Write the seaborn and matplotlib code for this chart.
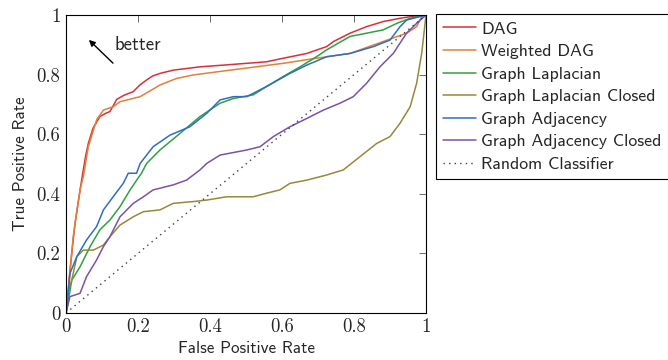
import matplotlib
matplotlib.use("Agg")
import matplotlib.pyplot as plt
import seaborn as sns
import pandas as pd

# ROC curves (FPR, TPR)
dag_fpr = [0, 0.005, 0.01, 0.016, 0.025, 0.03, 0.04, 0.048, 0.055, 0.062, 0.075, 0.094, 0.11, 0.122,
           0.141, 0.16, 0.187, 0.205, 0.224, 0.24, 0.261, 0.298, 0.372, 0.45, 0.557, 0.604, 0.669,
           0.724, 0.743, 0.789, 0.835, 0.881, 0.928, 0.96, 1.0]
dag_tpr = [0, 0.06, 0.13, 0.2, 0.3, 0.34, 0.42, 0.48, 0.53, 0.569, 0.62, 0.659, 0.67, 0.676,
           0.717, 0.73, 0.743, 0.765, 0.782, 0.795, 0.804, 0.815, 0.826, 0.833, 0.843, 0.855, 0.871,
           0.894, 0.911, 0.939, 0.961, 0.978, 0.989, 0.995, 1.0]

wdag_fpr = [0, 0.006, 0.012, 0.02, 0.03, 0.039, 0.048, 0.062, 0.085, 0.104, 0.131, 0.15, 0.206,
            0.261, 0.307, 0.354, 0.604, 0.696, 0.789, 0.881, 0.946, 0.974, 0.988, 1.0]
wdag_tpr = [0, 0.07, 0.15, 0.256, 0.34, 0.413, 0.457, 0.558, 0.648, 0.681, 0.692, 0.709, 0.726,
            0.765, 0.787, 0.799, 0.838, 0.855, 0.871, 0.911, 0.939, 0.961, 0.994, 1.0]

lap_fpr = [0, 0.002, 0.016, 0.039, 0.067, 0.094, 0.122, 0.15, 0.178, 0.21, 0.224, 0.261, 0.317,
           0.372, 0.428, 0.465, 0.52, 0.557, 0.604, 0.65, 0.696, 0.724, 0.789, 0.835, 0.881,
           0.919, 0.956, 1.0]
lap_tpr = [0, 0.01, 0.11, 0.155, 0.223, 0.279, 0.312, 0.357, 0.413, 0.47, 0.502, 0.547, 0.603,
           0.659, 0.704, 0.72, 0.732, 0.76, 0.794, 0.826, 0.86, 0.883, 0.928, 0.939, 0.95,
           0.972, 0.989, 1.0]

lapc_fpr = [0, 0.002, 0.016, 0.030, 0.048, 0.076, 0.104, 0.122, 0.15, 0.187, 0.215, 0.261, 0.298,
            0.354, 0.391, 0.446, 0.52, 0.557, 0.594, 0.622, 0.669, 0.724, 0.77, 0.817, 0.863,
            0.9, 0.928, 0.956, 0.974, 0.988, 1.0]
lapc_tpr = [0.05, 0.055, 0.11, 0.189, 0.211, 0.211, 0.228, 0.256, 0.295, 0.323, 0.34, 0.346, 0.368,
            0.374, 0.379, 0.39, 0.39, 0.402, 0.413, 0.435, 0.446, 0.463, 0.48, 0.525, 0.569,
            0.592, 0.637, 0.692, 0.771, 0.871, 1.0]

adj_fpr = [0, 0.002, 0.011, 0.030, 0.057, 0.085, 0.104, 0.131, 0.159, 0.173, 0.196, 0.206, 0.242,
           0.289, 0.344, 0.391, 0.428, 0.465, 0.502, 0.557, 0.622, 0.669, 0.724, 0.789, 0.854,
           0.9, 0.928, 0.946, 1.0]
adj_tpr = [0, 0.01, 0.133, 0.189, 0.245, 0.29, 0.346, 0.39, 0.435, 0.469, 0.469, 0.502, 0.558,
           0.597, 0.625, 0.67, 0.715, 0.726, 0.726, 0.76, 0.804, 0.832, 0.86, 0.871, 0.894,
           0.916, 0.961, 0.983, 1.0]

adjc_fpr = [0, 0.002, 0.011, 0.039, 0.057, 0.085, 0.104, 0.122, 0.15, 0.187, 0.215, 0.242, 0.298,
            0.335, 0.372, 0.391, 0.428, 0.502, 0.539, 0.576, 0.622, 0.669, 0.715, 0.761, 0.798,
            0.835, 0.872, 0.909, 0.946, 0.974, 1.0]
adjc_tpr = [0, 0.01, 0.055, 0.066, 0.122, 0.178, 0.223, 0.256, 0.323, 0.368, 0.39, 0.413, 0.43,
            0.446, 0.48, 0.502, 0.53, 0.547, 0.558, 0.592, 0.625, 0.653, 0.681, 0.704, 0.726,
            0.771, 0.826, 0.871, 0.939, 0.972, 1.0]

rand_fpr = [0, 1]
rand_tpr = [0, 1]

names = ["DAG", "Weighted DAG", "Graph Laplacian", "Graph Laplacian Closed",
         "Graph Adjacency", "Graph Adjacency Closed"]
colors = ["#d9303a", "#e0803a", "#30a040", "#958a3a", "#2f6ec0", "#7a52a8"]
curves = [(dag_fpr, dag_tpr), (wdag_fpr, wdag_tpr), (lap_fpr, lap_tpr),
          (lapc_fpr, lapc_tpr), (adj_fpr, adj_tpr), (adjc_fpr, adjc_tpr)]

ticks = [0, 0.2, 0.4, 0.6, 0.8, 1]
tick_labels = ["0", "0.2", "0.4", "0.6", "0.8", "1"]

frames = []
for n, (fx, ty) in zip(names, curves):
    frames.append(pd.DataFrame({"fpr": fx, "tpr": ty, "model": n}))
df = pd.concat(frames, ignore_index=True)

sns.set_style("white")
plt.rcParams["axes.formatter.use_mathtext"] = True
sans = ["cmss10", "DejaVu Sans"]
serif = ["cmr10", "DejaVu Serif"]

fig = plt.figure(figsize=(6.68, 3.6), dpi=100)
ax = fig.add_axes([66 / 668, 47 / 360, 360 / 668, 298 / 360])

sns.lineplot(data=df, x="fpr", y="tpr", hue="model", hue_order=names,
             palette=colors, sort=False, estimator=None, linewidth=1.1, ax=ax)
sns.lineplot(x=rand_fpr, y=rand_tpr, color="#404040", linestyle=(0, (1, 3)),
             linewidth=1.0, label="Random Classifier", ax=ax)

ax.set_xlim(0, 1)
ax.set_ylim(0, 1)
ax.set_xticks(ticks)
ax.set_yticks(ticks)
ax.set_xticklabels(tick_labels, fontfamily=serif, fontsize=13.5)
ax.set_yticklabels(tick_labels, fontfamily=serif, fontsize=13.5)
ax.tick_params(direction="in", top=True, right=True, length=5, width=0.6,
               color="#555555", pad=4)
for s in ax.spines.values():
    s.set_color("black")
    s.set_linewidth(0.8)

ax.set_xlabel("False Positive Rate", fontfamily=sans, fontsize=12.3, labelpad=3)
ax.set_ylabel("True Positive Rate", fontfamily=sans, fontsize=12.3, labelpad=6)

ax.annotate("", xy=(0.058, 0.923), xytext=(0.136, 0.832),
            arrowprops=dict(arrowstyle="-|>", color="black", lw=1.0,
                            mutation_scale=9))
ax.text(0.136, 0.9, "better", fontfamily=sans, fontsize=13.5, va="center", ha="left")

leg = ax.legend(loc="upper left", bbox_to_anchor=(1.027, 1.003), borderaxespad=0,
                frameon=True, fancybox=False, framealpha=1, edgecolor="black",
                prop={"family": sans, "size": 12.8}, handlelength=1.85,
                handletextpad=0.3, labelspacing=0.4, borderpad=0.4)
leg.get_frame().set_linewidth(0.8)

fig.savefig("out.png", dpi=100)
